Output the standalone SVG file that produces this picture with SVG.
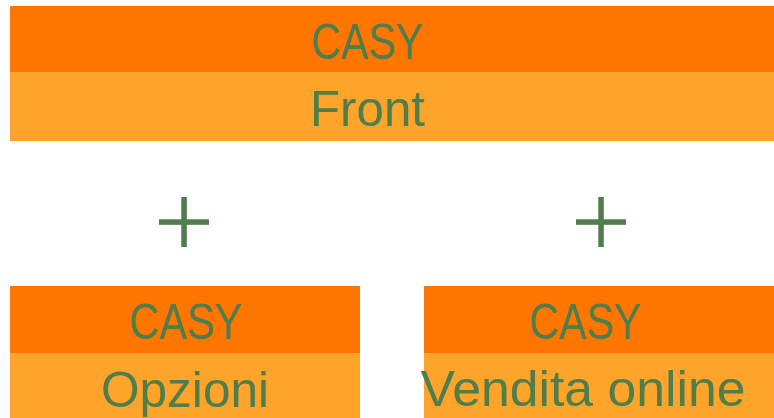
<svg xmlns="http://www.w3.org/2000/svg" width="774" height="418" viewBox="0 0 774 418">
<style>
.dark{fill:#FE7600}
.light{fill:#FEA42A}
.t{font-family:"Liberation Sans",Arial,sans-serif;font-size:50px;fill:#4F7D4C;text-anchor:middle}
.plus{fill:#4F7D4C}
</style>
<rect width="774" height="418" fill="#FFFFFF"/>
<g id="front">
<rect class="dark" x="10" y="6" width="764" height="66"/>
<rect class="light" x="10" y="72" width="764" height="69"/>
<text class="t" x="367" y="59" textLength="112" lengthAdjust="spacingAndGlyphs">CASY</text>
<text class="t" x="367.5" y="126" textLength="115" lengthAdjust="spacingAndGlyphs">Front</text>
</g>
<g id="plus-left">
<rect class="plus" x="181.3" y="197" width="5.5" height="50"/>
<rect class="plus" x="159" y="219.3" width="50" height="5.5"/>
</g>
<g id="plus-right">
<rect class="plus" x="598.3" y="197" width="5.5" height="50"/>
<rect class="plus" x="576" y="219.3" width="50" height="5.5"/>
</g>
<g id="opzioni">
<rect class="dark" x="10" y="286" width="350" height="67"/>
<rect class="light" x="10" y="353" width="350" height="65"/>
<text class="t" x="185.5" y="339" textLength="113" lengthAdjust="spacingAndGlyphs">CASY</text>
<text class="t" x="185" y="406.5" textLength="168" lengthAdjust="spacingAndGlyphs">Opzioni</text>
</g>
<g id="vendita">
<rect class="dark" x="424" y="286" width="350" height="67"/>
<rect class="light" x="424" y="353" width="350" height="65"/>
<text class="t" x="585" y="339" textLength="112" lengthAdjust="spacingAndGlyphs">CASY</text>
<text class="t" x="583" y="406" textLength="325" lengthAdjust="spacingAndGlyphs">Vendita online</text>
</g>
<g id="connectors"></g>
</svg>
